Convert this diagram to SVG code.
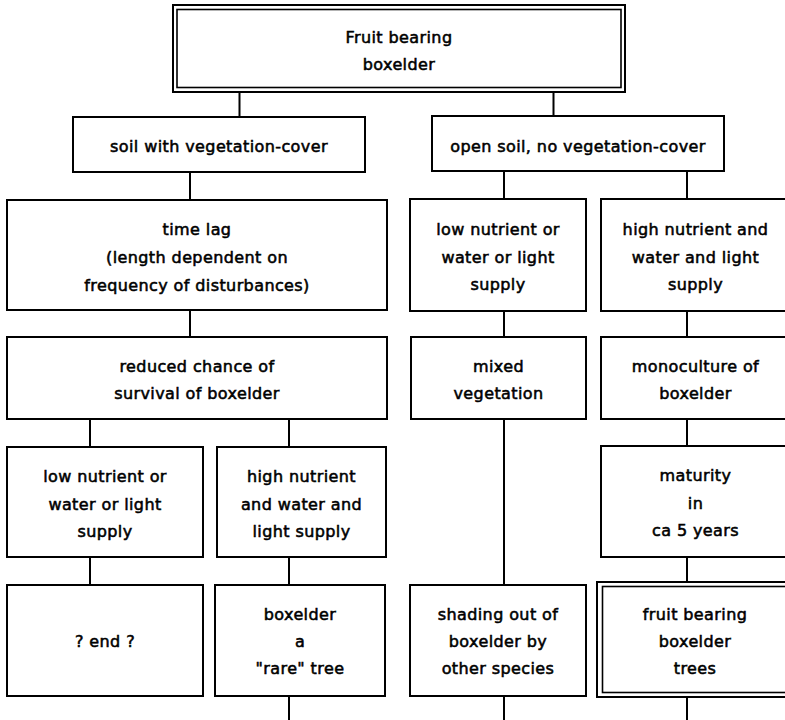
<svg xmlns="http://www.w3.org/2000/svg" width="785" height="720" viewBox="0 0 785 720">
<style>
.box{fill:#fff;stroke:#000;stroke-width:2}
.in{fill:none;stroke:#000;stroke-width:1.6}
.c{stroke:#000;stroke-width:2;fill:none}
text{font-family:"DejaVu Sans","Liberation Sans",sans-serif;font-size:16px;letter-spacing:0.4px;text-anchor:middle;fill:#000;stroke:#000;stroke-width:0.55}
</style>
<rect width="785" height="720" fill="#fff"/>
<g id="connectors">
<path class="c" d="M239.5 92V117M553.5 92V117"/>
<path class="c" d="M190 172V200M190 310V337"/>
<path class="c" d="M90 419V447M289 419V447M90 557V585M289 557V585M289 696V720"/>
<path class="c" d="M504 171V199M687 171V199M504 311V337M687 311V337"/>
<path class="c" d="M504 419V585M504 696V720M687 419V446M687 557V582M687 697V720"/>
</g>
<g id="n-top">
<rect class="box" x="173" y="5" width="452" height="87"/>
<rect class="in" x="177" y="9.5" width="444" height="78"/>
<text x="399" y="43">Fruit bearing</text>
<text x="399" y="70">boxelder</text>
</g>
<g id="n-soil">
<rect class="box" x="73" y="117" width="292" height="55"/>
<text x="219" y="152">soil with vegetation-cover</text>
</g>
<g id="n-open">
<rect class="box" x="432" y="116" width="292" height="55"/>
<text x="578" y="152">open soil, no vegetation-cover</text>
</g>
<g id="n-timelag">
<rect class="box" x="7" y="200" width="380" height="110"/>
<text x="197" y="235">time lag</text>
<text x="197" y="263">(length dependent on</text>
<text x="197" y="291">frequency of disturbances)</text>
</g>
<g id="n-low-r">
<rect class="box" x="410" y="199" width="176" height="112"/>
<text x="498" y="235">low nutrient or</text>
<text x="498" y="263">water or light</text>
<text x="498" y="290">supply</text>
</g>
<g id="n-high-r">
<rect class="box" x="601" y="199" width="200" height="112"/>
<text x="695.5" y="235">high nutrient and</text>
<text x="695.5" y="263">water and light</text>
<text x="695.5" y="290">supply</text>
</g>
<g id="n-reduced">
<rect class="box" x="7" y="337" width="380" height="82"/>
<text x="197" y="372">reduced chance of</text>
<text x="197" y="399">survival of boxelder</text>
</g>
<g id="n-mixed">
<rect class="box" x="411" y="337" width="175" height="82"/>
<text x="498.5" y="372">mixed</text>
<text x="498.5" y="399">vegetation</text>
</g>
<g id="n-mono">
<rect class="box" x="601" y="337" width="200" height="82"/>
<text x="695.5" y="372">monoculture of</text>
<text x="695.5" y="399">boxelder</text>
</g>
<g id="n-low-l">
<rect class="box" x="7" y="447" width="196" height="110"/>
<text x="105" y="482">low nutrient or</text>
<text x="105" y="510">water or light</text>
<text x="105" y="537">supply</text>
</g>
<g id="n-high-l">
<rect class="box" x="217" y="447" width="169" height="110"/>
<text x="301.5" y="482">high nutrient</text>
<text x="301.5" y="510">and water and</text>
<text x="301.5" y="537">light supply</text>
</g>
<g id="n-maturity">
<rect class="box" x="601" y="446" width="200" height="111"/>
<text x="695.5" y="481">maturity</text>
<text x="695.5" y="509">in</text>
<text x="695.5" y="536">ca 5 years</text>
</g>
<g id="n-end">
<rect class="box" x="7" y="585" width="196" height="111"/>
<text x="105" y="647">? end ?</text>
</g>
<g id="n-rare">
<rect class="box" x="215" y="585" width="170" height="111"/>
<text x="300" y="620">boxelder</text>
<text x="300" y="647">a</text>
<text x="300" y="674">"rare" tree</text>
</g>
<g id="n-shading">
<rect class="box" x="410" y="585" width="176" height="111"/>
<text x="498" y="620">shading out of</text>
<text x="498" y="647">boxelder by</text>
<text x="498" y="674">other species</text>
</g>
<g id="n-fruit">
<rect class="box" x="597" y="582" width="200" height="115"/>
<rect class="in" x="602.5" y="586.5" width="190" height="106"/>
<text x="695" y="620">fruit bearing</text>
<text x="695" y="647">boxelder</text>
<text x="695" y="674">trees</text>
</g>
</svg>
